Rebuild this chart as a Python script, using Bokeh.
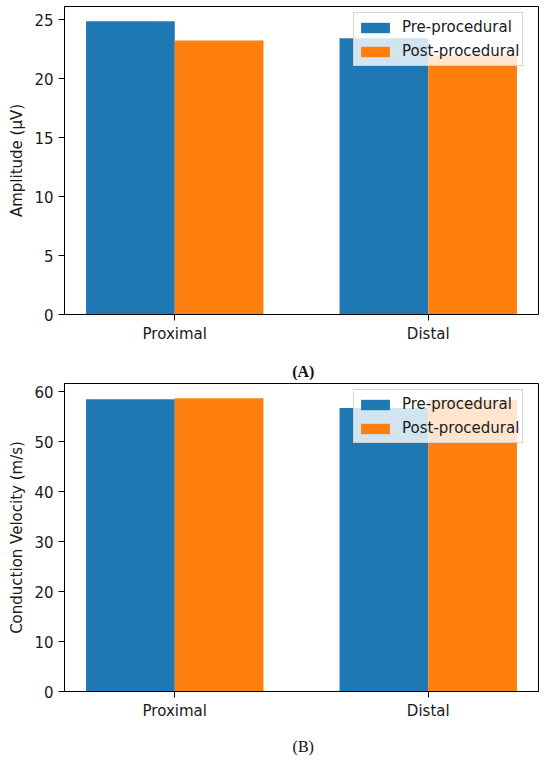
from bokeh.plotting import figure
from bokeh.models import Range1d, FixedTicker, Legend, LegendItem, ColumnDataSource
from bokeh.core.properties import value
from bokeh.layouts import column
from bokeh.embed import file_html
from bokeh.resources import INLINE

# ---- data ----
categories = ["Proximal", "Distal"]
series_names = ["Pre-procedural", "Post-procedural"]
amp_pre = [24.88, 23.44]
amp_post = [23.25, 21.97]
cv_pre = [58.46, 56.74]
cv_post = [58.70, 58.40]
amp_ticks = [0, 5, 10, 15, 20, 25]
cv_ticks = [0, 10, 20, 30, 40, 50, 60]
y_titles = ["Amplitude (µV)", "Conduction Velocity (m/s)"]
captions = ["(A)", "(B)"]

BLUE = "#1f77b4"
ORANGE = "#ff7f0e"
BAR_W = 0.35
FRAME_W = 474
FRAME_H = 308
FIG_W = 64 + FRAME_W + 8
FONT = "DejaVu Sans"


def make_panel(pre, post, ticks, ytitle, top_b, bot_b):
    idx = list(range(len(categories)))
    ymax = max(pre + post) * 1.05
    p = figure(width=FIG_W, height=top_b + FRAME_H + bot_b,
               x_range=Range1d(-0.435, len(categories) - 1 + 0.435),
               y_range=Range1d(0, ymax),
               output_backend="svg", toolbar_location=None,
               min_border_left=64, min_border_right=8,
               min_border_top=top_b, min_border_bottom=bot_b)
    src = ColumnDataSource(dict(
        xpre=[i - BAR_W / 2 for i in idx],
        xpost=[i + BAR_W / 2 for i in idx],
        pre=pre, post=post))
    r1 = p.vbar(x="xpre", top="pre", bottom=0, width=BAR_W, source=src,
                fill_color=BLUE, line_color=None)
    r2 = p.vbar(x="xpost", top="post", bottom=0, width=BAR_W, source=src,
                fill_color=ORANGE, line_color=None)

    p.xgrid.visible = False
    p.ygrid.visible = False
    p.outline_line_color = "black"
    p.outline_line_width = 1
    p.outline_line_alpha = 1
    p.background_fill_color = "white"
    p.border_fill_color = "white"

    for ax in (p.xaxis[0], p.yaxis[0]):
        ax.axis_line_color = "black"
        ax.major_tick_line_color = "black"
        ax.major_tick_out = 6
        ax.major_tick_in = 0
        ax.minor_tick_line_color = None
        ax.major_label_text_font = FONT
        ax.major_label_text_font_size = "15px"
        ax.major_label_text_color = "#1a1a1a"
        ax.major_label_standoff = 5

    p.xaxis[0].major_label_standoff = 4
    p.xaxis[0].ticker = FixedTicker(ticks=idx)
    p.xaxis[0].major_label_overrides = {i: c for i, c in enumerate(categories)}
    p.yaxis[0].ticker = FixedTicker(ticks=ticks)
    p.yaxis[0].axis_label = ytitle
    p.yaxis[0].axis_label_text_font = FONT
    p.yaxis[0].axis_label_text_font_size = "15px"
    p.yaxis[0].axis_label_text_font_style = "normal"
    p.yaxis[0].axis_label_text_color = "#1a1a1a"
    p.yaxis[0].axis_label_standoff = 5

    legend = Legend(items=[LegendItem(label=series_names[0], renderers=[r1]),
                           LegendItem(label=series_names[1], renderers=[r2])],
                    location=(289, 248), margin=0,
                    glyph_width=36, glyph_height=13, label_height=22,
                    label_standoff=9, padding=3, spacing=2,
                    label_text_font=FONT, label_text_font_size="15px",
                    label_text_color="#1a1a1a",
                    border_line_color="#cccccc", border_line_alpha=0.8,
                    background_fill_color="white", background_fill_alpha=0.8)
    p.add_layout(legend, "center")
    return p


def make_caption(text, bold, height, center_from_top):
    c = figure(width=FIG_W, height=height,
               x_range=Range1d(0, FIG_W), y_range=Range1d(0, height),
               output_backend="svg", toolbar_location=None,
               x_axis_location=None, y_axis_location=None,
               min_border=0, min_border_left=0, min_border_right=0,
               min_border_top=0, min_border_bottom=0)
    c.xgrid.visible = False
    c.ygrid.visible = False
    c.outline_line_color = None
    c.background_fill_color = "white"
    c.border_fill_color = "white"
    c.text(x=[275], y=[height - center_from_top], text=[text],
           text_font=value("Liberation Serif"), text_font_size="16px",
           text_font_style="bold" if bold else "normal",
           text_align="center", text_baseline="middle",
           text_color="#111111")
    return c


pa = make_panel(amp_pre, amp_post, amp_ticks, y_titles[0], 6, 45)   # ends at 359
ca = make_caption(captions[0], True, 21, 11.7)                        # 359..380
pb = make_panel(cv_pre, cv_post, cv_ticks, y_titles[1], 3, 45)      # 380..736
cb = make_caption(captions[1], False, 21, 10.3)                       # 736..757
layout = column(pa, ca, pb, cb, spacing=0)

open("out.html", "w").write(file_html(layout, INLINE))
